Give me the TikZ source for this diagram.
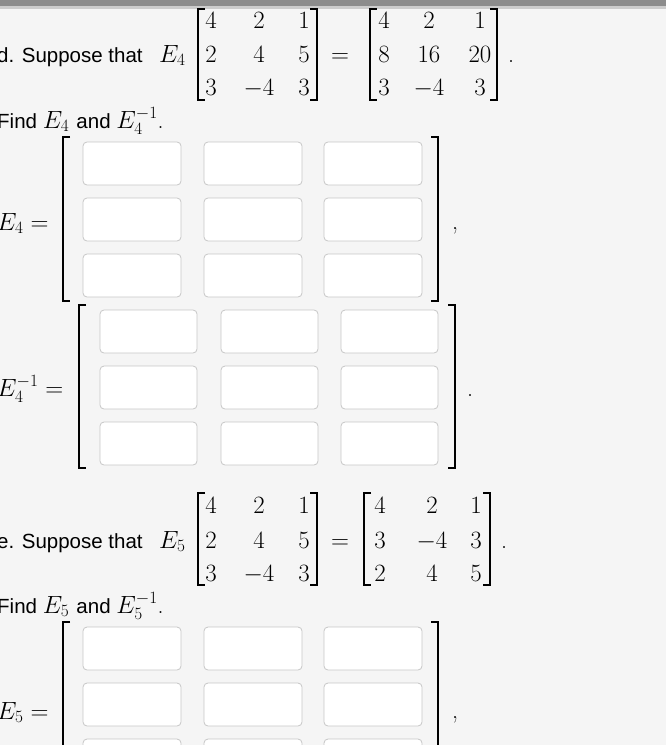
\documentclass[tikz,border=0pt]{standalone}
\usepackage{fontspec}
\setsansfont{Liberation Sans}
\begin{document}
\begin{tikzpicture}[x=1pt,y=-1pt,
  txt/.style={font=\sffamily\fontsize{20.5}{24}\selectfont,anchor=base west,inner sep=0},
  mth/.style={font=\fontsize{24}{28}\selectfont,inner sep=0,anchor=base},
  ibox/.style={draw=black!22,fill=white,rounded corners=4pt,line width=0.8pt},
  brk/.style={line width=1.6pt}]
\useasboundingbox (0,0) rectangle (666,745);
\fill[black!4] (0,0) rectangle (666,745);
\fill[black!45] (0,0) rectangle (666,6);
\fill[black!20] (0,6) rectangle (666,9);
\newcommand{\mybrk}[4]{%
  \draw[brk] (#1+7,#3) -- (#1,#3) -- (#1,#4) -- (#1+7,#4);
  \draw[brk] (#2-7,#3) -- (#2,#3) -- (#2,#4) -- (#2-7,#4);}
\newcommand{\mybigfont}{\rmfamily\fontsize{24}{28}\selectfont}
\newcommand{\mysmfont}{\sffamily\fontsize{20.5}{24}\selectfont}
% ---- part d
\node[txt] (sd) at (-3,62) {d. Suppose that};
\node[mth,anchor=base west] (E4a) at (159,62) {$E_4$};
\mybrk{198}{317}{9}{100}
\foreach \y/\a/\b/\c in {28/4/2/1, 62/2/4/5, 95/3/{-4}/3}
  {\node[mth] at (211,\y) {$\a$}; \node[mth] at (259,\y) {$\b$}; \node[mth] at (304,\y) {$\c$};}
\node[mth] (eq1) at (340,62) {$=$};
\mybrk{370}{497}{9}{100}
\foreach \y/\a/\b/\c in {28/4/2/1, 62/8/16/20, 95/3/{-4}/3}
  {\node[mth] at (384,\y) {$\a$}; \node[mth] at (429,\y) {$\b$}; \node[mth] at (480,\y) {$\c$};}
\node[mth] at (511,62) {.};
\node[txt] (fd) at (-3,128) {Find \mybigfont$E_4$ \mysmfont and \mybigfont$E_4^{-1}$.};
% E4 boxes
\node[mth,anchor=base west] (E4l) at (-3,230) {$E_4 =$};
\mybrk{63}{438}{137}{301}
\foreach \y in {142,198,254}
  \foreach \x in {83,204,324}
    \draw[ibox] (\x,\y) rectangle ++(98,43);
\node[mth] at (455,229) {,};
% E4 inverse
\node[mth,anchor=base west] (E4il) at (-3,396) {$E_4^{-1} =$};
\mybrk{79}{455}{305}{468}
\foreach \y in {310,366,422}
  \foreach \x in {100,221,341}
    \draw[ibox] (\x,\y) rectangle ++(97,43);
\node[mth] at (470,396) {.};
% ---- part e
\node[txt] (se) at (-3,548) {e. Suppose that};
\node[mth,anchor=base west] (E5a) at (159,548) {$E_5$};
\mybrk{198}{317}{493}{585}
\foreach \y/\a/\b/\c in {513/4/2/1, 548/2/4/5, 581/3/{-4}/3}
  {\node[mth] at (211,\y) {$\a$}; \node[mth] at (259,\y) {$\b$}; \node[mth] at (304,\y) {$\c$};}
\node[mth] (eq2) at (340,548) {$=$};
\mybrk{364}{490}{493}{585}
\foreach \y/\a/\b/\c in {513/4/2/1, 548/3/{-4}/3, 581/2/4/5}
  {\node[mth] at (380,\y) {$\a$}; \node[mth] at (432,\y) {$\b$}; \node[mth] at (476,\y) {$\c$};}
\node[mth] at (504,548) {.};
\node[txt] (fe) at (-3,613) {Find \mybigfont$E_5$ \mysmfont and \mybigfont$E_5^{-1}$.};
\node[mth,anchor=base west] (E5l) at (-3,719) {$E_5 =$};
\mybrk{63}{438}{622}{790}
\foreach \y in {627,683,739}
  \foreach \x in {83,204,324}
    \draw[ibox] (\x,\y) rectangle ++(98,43);
\node[mth] at (455,718) {,};
\end{tikzpicture}
\end{document}
